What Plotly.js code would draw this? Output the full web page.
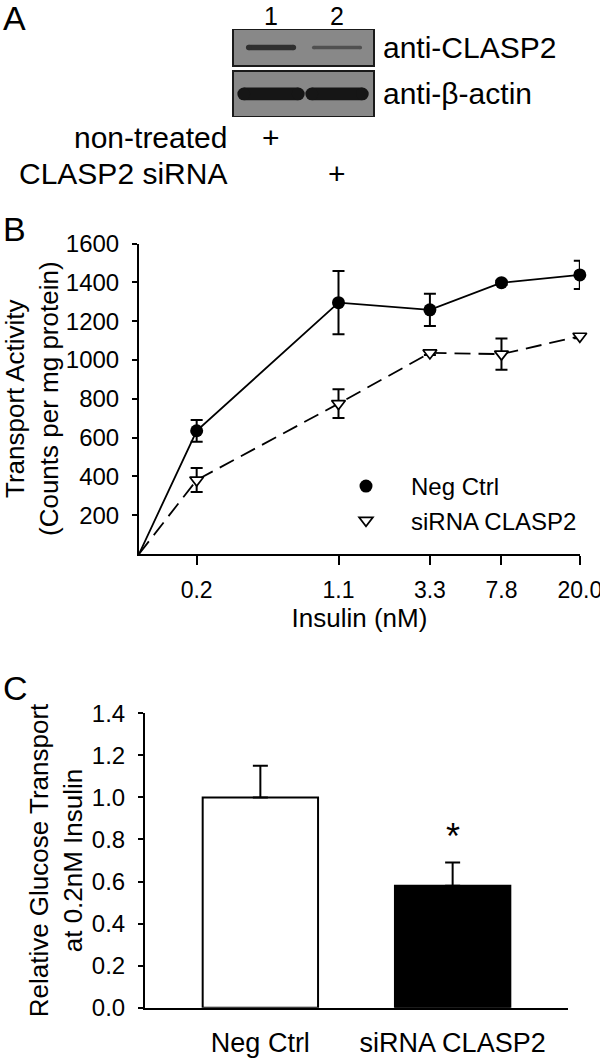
<!DOCTYPE html>
<html>
<head>
<meta charset="utf-8">
<script src="https://cdn.plot.ly/plotly-3.0.1.min.js"></script>
<style>
html, body { margin: 0; padding: 0; background: #ffffff; }
#chart { width: 600px; height: 1058px; }
</style>
</head>
<body>
<div id="chart"></div>
<script>
// ---------- Panel A: western blot ----------
const lanes = [1, 2];
const laneLabels = ['1', '2'];
const blotRows = ['anti-CLASP2', 'anti-\u03B2-actin'];
const bandIntensity = [[0.72, 0.45], [0.92, 0.92]];
const treatmentRows = ['non-treated', 'CLASP2 siRNA'];
const treatmentMarks = [['+', ''], ['', '+']];

// ---------- Panel B: transport vs insulin ----------
const insulin = [0.2, 1.1, 3.3, 7.8, 20.0];
const insulinTickText = ['0.2', '1.1', '3.3', '7.8', '20.0'];
const basalInsulin = [0.1];
const basalActivity = [0];
const negCtrl = [635, 1295, 1258, 1398, 1438];
const negCtrlErr = [56, 163, 83, 10, 73];
const sirna = [381, 775, 1036, 1030, 1122];
const sirnaErr = [62, 74, 10, 80, 10];
const activityTicks = [200, 400, 600, 800, 1000, 1200, 1400, 1600];

// ---------- Panel C: relative glucose transport ----------
const groups = ['Neg Ctrl', 'siRNA CLASP2'];
const relTransport = [1.0, 0.58];
const relTransportErr = [0.15, 0.11];
const significance = ['', '*'];

// ---------- helpers (layout only) ----------
const H = 1058, W = 600;
const px = v => v / W;
const py = v => 1 - v / H;
const FONT = 'Liberation Sans, Arial, Helvetica, sans-serif';
const ink = '#000000';

const traces = [
  {
    x: basalInsulin.concat(insulin), y: basalActivity.concat(negCtrl),
    xaxis: 'x', yaxis: 'y', mode: 'lines', type: 'scatter', cliponaxis: false,
    line: { color: ink, width: 1.8 }, showlegend: false, hoverinfo: 'skip'
  },
  {
    x: basalInsulin.concat(insulin), y: basalActivity.concat(sirna),
    xaxis: 'x', yaxis: 'y', mode: 'lines', type: 'scatter', cliponaxis: false,
    line: { color: ink, width: 1.8, dash: '16px,8px' }, showlegend: false, hoverinfo: 'skip'
  },
  {
    name: 'Neg Ctrl', x: insulin, y: negCtrl, xaxis: 'x', yaxis: 'y',
    type: 'scatter', mode: 'markers', cliponaxis: false,
    marker: { symbol: 'circle', size: 13, color: ink, line: { width: 0 } },
    error_y: { type: 'data', array: negCtrlErr, visible: true, color: ink, thickness: 2, width: 6 }
  },
  {
    name: 'siRNA CLASP2', x: insulin, y: sirna, xaxis: 'x', yaxis: 'y',
    type: 'scatter', mode: 'markers', cliponaxis: false,
    marker: { symbol: 'triangle-down', size: 12, color: '#ffffff', line: { width: 1.7, color: ink } },
    error_y: { type: 'data', array: sirnaErr, visible: true, color: ink, thickness: 2, width: 6 }
  },
  {
    x: groups, y: relTransport, xaxis: 'x2', yaxis: 'y2', type: 'bar',
    width: 0.6, showlegend: false, cliponaxis: false,
    marker: { color: ['#ffffff', '#000000'], line: { color: ink, width: 2 } },
    error_y: { type: 'data', symmetric: false, array: relTransportErr,
               arrayminus: relTransportErr.map(() => 0), visible: true,
               color: ink, thickness: 2, width: 7.5 }
  }
];

// ----- Blot shapes -----
const shapes = [];
const rowHalf = [0.398, 0.495];
const lanePx = 66, rowPx = 46.5;          // pixel size of one lane / one row unit
const bandHalfW = [[0.38, 0.38], [0.51, 0.48]];
const bandHalfH = [[0.06, 0.04], [0.137, 0.137]];
const bg = 136;
blotRows.forEach((r, ri) => {
  shapes.push({
    type: 'rect', xref: 'x3 domain', yref: 'y3', x0: 0, x1: 1,
    y0: ri - rowHalf[ri], y1: ri + rowHalf[ri],
    fillcolor: 'rgb(' + bg + ',' + bg + ',' + bg + ')', line: { color: '#1a1a1a', width: 2 }, layer: 'below'
  });
  lanes.forEach((ln, li) => {
    const g = Math.round(bg - bandIntensity[ri][li] * (bg - 12));
    const col = 'rgb(' + g + ',' + g + ',' + g + ')';
    const hw = bandHalfW[ri][li];
    const hh = bandHalfH[ri][li];
    const capW = (2 * hh * rowPx) / lanePx;   // end cap diameter in lane units
    shapes.push({ type: 'rect', xref: 'x3', yref: 'y3', x0: ln - hw + capW / 2, x1: ln + hw - capW / 2,
      y0: ri - hh, y1: ri + hh, fillcolor: col, line: { width: 0 } });
    shapes.push({ type: 'circle', xref: 'x3', yref: 'y3', x0: ln - hw, x1: ln - hw + capW,
      y0: ri - hh, y1: ri + hh, fillcolor: col, line: { width: 0 } });
    shapes.push({ type: 'circle', xref: 'x3', yref: 'y3', x0: ln + hw - capW, x1: ln + hw,
      y0: ri - hh, y1: ri + hh, fillcolor: col, line: { width: 0 } });
  });
});

// ----- Annotations -----
const ann = [];
const letter = (t, y) => ({ text: t, xref: 'paper', yref: 'paper', x: px(1), y: py(y),
  xanchor: 'left', yanchor: 'middle', showarrow: false, font: { family: FONT, size: 34, color: ink } });
ann.push(letter('A', 18), letter('B', 229), letter('C', 688));
lanes.forEach((ln, li) => ann.push({ text: laneLabels[li], xref: 'x3', yref: 'paper', x: ln, y: py(16),
  xanchor: 'center', yanchor: 'middle', showarrow: false, font: { family: FONT, size: 25, color: ink } }));
blotRows.forEach((r, ri) => ann.push({ text: r, xref: 'paper', yref: 'y3', x: px(381), y: ri,
  xanchor: 'left', yanchor: 'middle', showarrow: false, font: { family: FONT, size: 30, color: ink } }));
const treatY = [137, 173];
treatmentRows.forEach((r, ri) => {
  ann.push({ text: r, xref: 'paper', yref: 'paper', x: px(229), y: py(treatY[ri]),
    xanchor: 'right', yanchor: 'middle', showarrow: false, font: { family: FONT, size: 30, color: ink } });
  lanes.forEach((ln, li) => {
    if (treatmentMarks[ri][li]) ann.push({ text: treatmentMarks[ri][li], xref: 'x3', yref: 'paper',
      x: ln, y: py(treatY[ri]), xanchor: 'center', yanchor: 'middle', showarrow: false,
      font: { family: FONT, size: 30, color: ink } });
  });
});
groups.forEach((g, gi) => {
  if (significance[gi]) ann.push({ text: significance[gi], xref: 'x2', yref: 'y2', x: g,
    y: relTransport[gi] + relTransportErr[gi], yanchor: 'bottom', yshift: 4, showarrow: false,
    font: { family: FONT, size: 36, color: ink } });
});

const axisCommon = { showgrid: false, zeroline: false, showline: true, linecolor: ink, linewidth: 2,
  tickcolor: ink, tickwidth: 2, color: ink, ticklabeloverflow: 'allow' };

const layout = {
  width: W, height: H, margin: { l: 0, r: 0, t: 0, b: 0 },
  paper_bgcolor: '#ffffff', plot_bgcolor: 'rgba(0,0,0,0)',
  font: { family: FONT, color: ink },
  showlegend: true,
  legend: { x: px(321), y: py(464), xanchor: 'left', yanchor: 'top', bgcolor: 'rgba(0,0,0,0)',
    font: { family: FONT, size: 24, color: ink }, tracegroupgap: 0, itemwidth: 80 },
  xaxis: Object.assign({}, axisCommon, {
    type: 'log', range: [Math.log10(0.1), Math.log10(20) + 0.001], domain: [px(139), px(580)], anchor: 'y',
    ticks: 'outside', ticklen: 9, tickvals: insulin, ticktext: insulinTickText,
    tickfont: { family: FONT, size: 23, color: ink }, ticklabelstandoff: 5,
    title: { text: 'Insulin (nM)', font: { family: FONT, size: 26, color: ink }, standoff: 5 }
  }),
  yaxis: Object.assign({}, axisCommon, {
    range: [0, 1600], domain: [py(554), py(243.5)], anchor: 'x',
    ticks: 'outside', ticklen: 5, tickvals: activityTicks,
    tickfont: { family: FONT, size: 24, color: ink }, ticklabelstandoff: 8,
    title: { text: 'Transport Activity<br>(Counts per mg protein)', font: { family: FONT, size: 26, color: ink }, standoff: 6 }
  }),
  xaxis2: Object.assign({}, axisCommon, {
    type: 'category', range: [-0.6, 1.6], domain: [px(145), px(568)], anchor: 'y2',
    ticks: '', tickfont: { family: FONT, size: 27, color: ink }, ticklabelstandoff: 10
  }),
  yaxis2: Object.assign({}, axisCommon, {
    range: [0, 1.4], dtick: 0.2, tick0: 0, tickformat: '.1f', domain: [py(1007.7), py(713.3)], anchor: 'x2',
    ticks: 'outside', ticklen: 5, tickfont: { family: FONT, size: 24, color: ink }, ticklabelstandoff: 8,
    title: { text: 'Relative Glucose Transport<br>at 0.2nM Insulin', font: { family: FONT, size: 26, color: ink }, standoff: 2 }
  }),
  xaxis3: { visible: false, range: [0.424, 2.56], domain: [px(233), px(374)], anchor: 'y3', fixedrange: true },
  yaxis3: { visible: false, range: [1.495, -0.398], domain: [py(117), py(29)], anchor: 'x3', fixedrange: true },
  shapes: shapes,
  annotations: ann
};

Plotly.newPlot('chart', traces, layout, { staticPlot: true, displayModeBar: false });
</script>
</body>
</html>
